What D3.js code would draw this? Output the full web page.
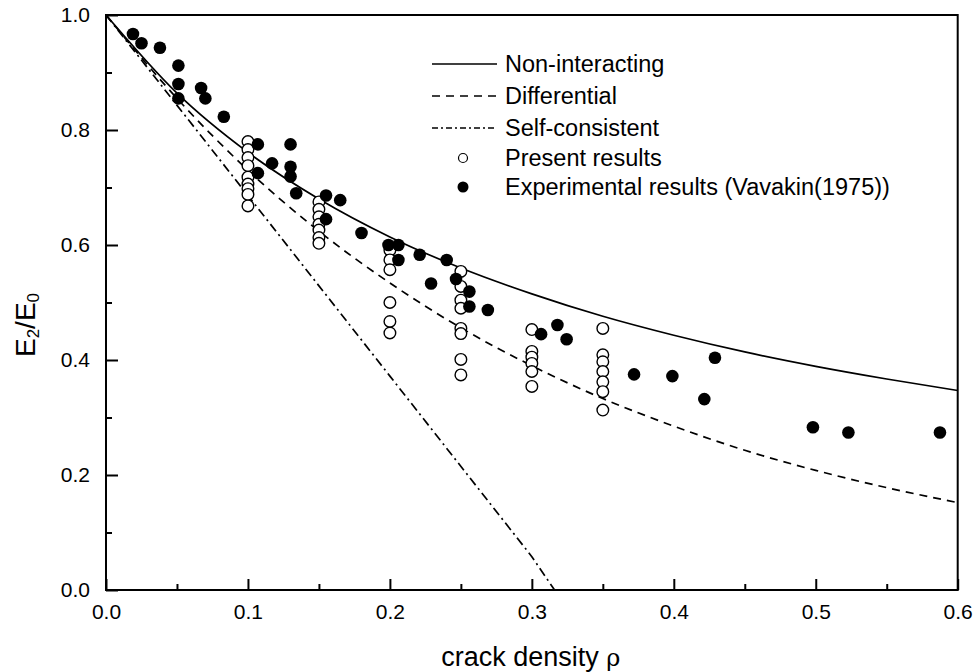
<!DOCTYPE html>
<html><head><meta charset="utf-8">
<script src="https://cdn.jsdelivr.net/npm/d3@7"></script>
<style>
html,body{margin:0;padding:0;background:#fff;}
svg text{font-family:"Liberation Sans",Arial,sans-serif;fill:#000;}
</style></head>
<body><svg id="c" width="973" height="672"></svg>
<script>
// ---- data ----
const curveRho = [0, 0.05, 0.1, 0.15, 0.2, 0.25, 0.3, 0.35, 0.4, 0.45, 0.5, 0.55, 0.6];
const nonInteracting = [1.0, 0.864, 0.761, 0.680, 0.614, 0.560, 0.515, 0.476, 0.443, 0.414, 0.389, 0.367, 0.347];
const differential = [1.0, 0.855, 0.730, 0.624, 0.534, 0.456, 0.390, 0.333, 0.285, 0.243, 0.208, 0.178, 0.152];
const selfRho = [0, 0.1, 0.2, 0.3, 0.316];
const selfConsistent = [1.0, 0.686, 0.372, 0.058, 0.0];

const presentRho = [
  0.1,0.1,0.1,0.1,0.1,0.1,0.1,0.1,0.1,
  0.15,0.15,0.15,0.15,0.15,0.15,0.15,
  0.2,0.2,0.2,0.2,0.2,0.2,
  0.25,0.25,0.25,0.25,0.25,0.25,0.25,0.25,
  0.3,0.3,0.3,0.3,0.3,0.3,
  0.35,0.35,0.35,0.35,0.35,0.35,0.35];
const presentE = [
  0.780,0.766,0.752,0.738,0.718,0.706,0.698,0.688,0.668,
  0.675,0.662,0.649,0.636,0.626,0.613,0.603,
  0.591,0.574,0.557,0.500,0.467,0.447,
  0.554,0.528,0.504,0.490,0.455,0.446,0.401,0.374,
  0.453,0.415,0.405,0.394,0.380,0.354,
  0.455,0.409,0.397,0.380,0.362,0.345,0.313];

const expRho = [0.019,0.025,0.038,0.051,0.051,0.051,0.067,0.070,0.083,0.107,0.117,0.107,0.130,0.130,0.130,0.134,
  0.155,0.165,0.155,0.180,0.199,0.206,0.206,0.221,0.240,0.229,0.2466,0.256,0.256,0.269,0.3065,0.318,0.3245,
  0.372,0.399,0.429,0.4215,0.498,0.523,0.5875];
const expE = [0.967,0.951,0.943,0.912,0.880,0.855,0.873,0.855,0.823,0.775,0.742,0.725,0.775,0.736,0.719,0.690,
  0.686,0.678,0.645,0.621,0.600,0.600,0.574,0.583,0.574,0.533,0.541,0.519,0.493,0.487,0.445,0.461,0.436,
  0.375,0.372,0.404,0.332,0.283,0.274,0.274];

const xTicks = [0, 0.1, 0.2, 0.3, 0.4, 0.5, 0.6];
const xMinor = [0.05, 0.15, 0.25, 0.35, 0.45, 0.55];
const yTicks = [0, 0.2, 0.4, 0.6, 0.8, 1.0];
const yMinor = [0.1, 0.3, 0.5, 0.7, 0.9];
const legendLabels = ["Non-interacting", "Differential", "Self-consistent", "Present results", "Experimental results (Vavakin(1975))"];

// ---- drawing ----
const L = 106, R = 957.7, T = 15, B = 590;
const FONT = '"Liberation Sans",Arial,sans-serif';
const svg = d3.select("#c");
const x = d3.scaleLinear().domain([0, 0.6]).range([L, R]);
const y = d3.scaleLinear().domain([0, 1]).range([B, T]);

svg.append("defs").append("clipPath").attr("id","pc")
  .append("rect").attr("x",L).attr("y",T).attr("width",R-L).attr("height",B-T);

const g = svg.append("g").attr("clip-path","url(#pc)");
const line = d3.line().curve(d3.curveMonotoneX);

g.append("path").attr("d", line(curveRho.map((r,i)=>[x(r), y(nonInteracting[i])])))
  .attr("fill","none").attr("stroke","#000").attr("stroke-width",1.7);
g.append("path").attr("d", line(curveRho.map((r,i)=>[x(r), y(differential[i])])))
  .attr("fill","none").attr("stroke","#000").attr("stroke-width",1.7).attr("stroke-dasharray","8,6");
g.append("path").attr("d", d3.line()(selfRho.map((r,i)=>[x(r), y(selfConsistent[i])])))
  .attr("fill","none").attr("stroke","#000").attr("stroke-width",1.7).attr("stroke-dasharray","9,4,2,4");

svg.append("g").selectAll("circle").data(presentRho).join("circle")
  .attr("cx",(d)=>x(d)).attr("cy",(d,i)=>y(presentE[i])).attr("r",5.8)
  .attr("fill","#fff").attr("stroke","#000").attr("stroke-width",1.4);
svg.append("g").selectAll("circle").data(expRho).join("circle")
  .attr("cx",(d)=>x(d)).attr("cy",(d,i)=>y(expE[i])).attr("r",6.3)
  .attr("fill","#000");

// axes
const xAxis = d3.axisBottom(x).tickValues(xTicks).tickSize(-11).tickPadding(0).tickFormat(d3.format(".1f"));
const xa = svg.append("g").attr("transform",`translate(0,${B})`).call(xAxis);
xa.select(".domain").remove();
xa.selectAll("line").attr("stroke","#000").attr("stroke-width",2);
xa.selectAll("text").attr("font-size","21px").attr("y",29).attr("dy",0).style("font-family",FONT);
const xm = svg.append("g").attr("transform",`translate(0,${B})`)
  .call(d3.axisBottom(x).tickValues(xMinor).tickSize(-6).tickFormat(""));
xm.select(".domain").remove();
xm.selectAll("line").attr("stroke","#000").attr("stroke-width",2);

const yAxis = d3.axisLeft(y).tickValues(yTicks).tickSize(-12).tickPadding(16).tickFormat(d3.format(".1f"));
const ya = svg.append("g").attr("transform",`translate(${L},0)`).call(yAxis);
ya.select(".domain").remove();
ya.selectAll("line").attr("stroke","#000").attr("stroke-width",2);
ya.selectAll("text").attr("font-size","21px").attr("x",-16).style("font-family",FONT);
const ym = svg.append("g").attr("transform",`translate(${L},0)`)
  .call(d3.axisLeft(y).tickValues(yMinor).tickSize(-6).tickFormat(""));
ym.select(".domain").remove();
ym.selectAll("line").attr("stroke","#000").attr("stroke-width",2);

// frame
svg.append("rect").attr("x",L).attr("y",T).attr("width",R-L).attr("height",B-T)
  .attr("fill","none").attr("stroke","#000").attr("stroke-width",2);

// axis titles
const xt = svg.append("text").attr("x",(L+R)/2-1).attr("y",666).attr("text-anchor","middle")
  .attr("font-size","27px");
xt.append("tspan").text("crack density ");
xt.append("tspan").text("ρ").style("font-family",'"DejaVu Serif",serif').attr("font-size","24px");

const yt = svg.append("text").attr("transform","translate(35,325) rotate(-90)")
  .attr("text-anchor","middle").attr("font-size","28px");
yt.append("tspan").text("E");
yt.append("tspan").text("2").attr("font-size","17px").attr("dy",4);
yt.append("tspan").text("/E").attr("dy",-4);
yt.append("tspan").text("0").attr("font-size","17px").attr("dy",4);

// legend
const legY = [64, 96, 128, 158, 187];
const lg = svg.append("g");
lg.append("line").attr("x1",432).attr("x2",497).attr("y1",legY[0]).attr("y2",legY[0])
  .attr("stroke","#000").attr("stroke-width",1.4);
lg.append("line").attr("x1",432).attr("x2",497).attr("y1",legY[1]).attr("y2",legY[1])
  .attr("stroke","#000").attr("stroke-width",1.4).attr("stroke-dasharray","8,6");
lg.append("line").attr("x1",432).attr("x2",497).attr("y1",legY[2]).attr("y2",legY[2])
  .attr("stroke","#000").attr("stroke-width",1.4).attr("stroke-dasharray","6,3,2,3");
lg.append("circle").attr("cx",463).attr("cy",legY[3]).attr("r",4.5)
  .attr("fill","#fff").attr("stroke","#000").attr("stroke-width",1.2);
lg.append("circle").attr("cx",463).attr("cy",legY[4]).attr("r",5.5).attr("fill","#000");
lg.selectAll("text").data(legendLabels).join("text")
  .attr("x",505).attr("y",(d,i)=>legY[i]).attr("dy","0.35em")
  .attr("font-size","23.5px").text(d=>d);
</script></body></html>
